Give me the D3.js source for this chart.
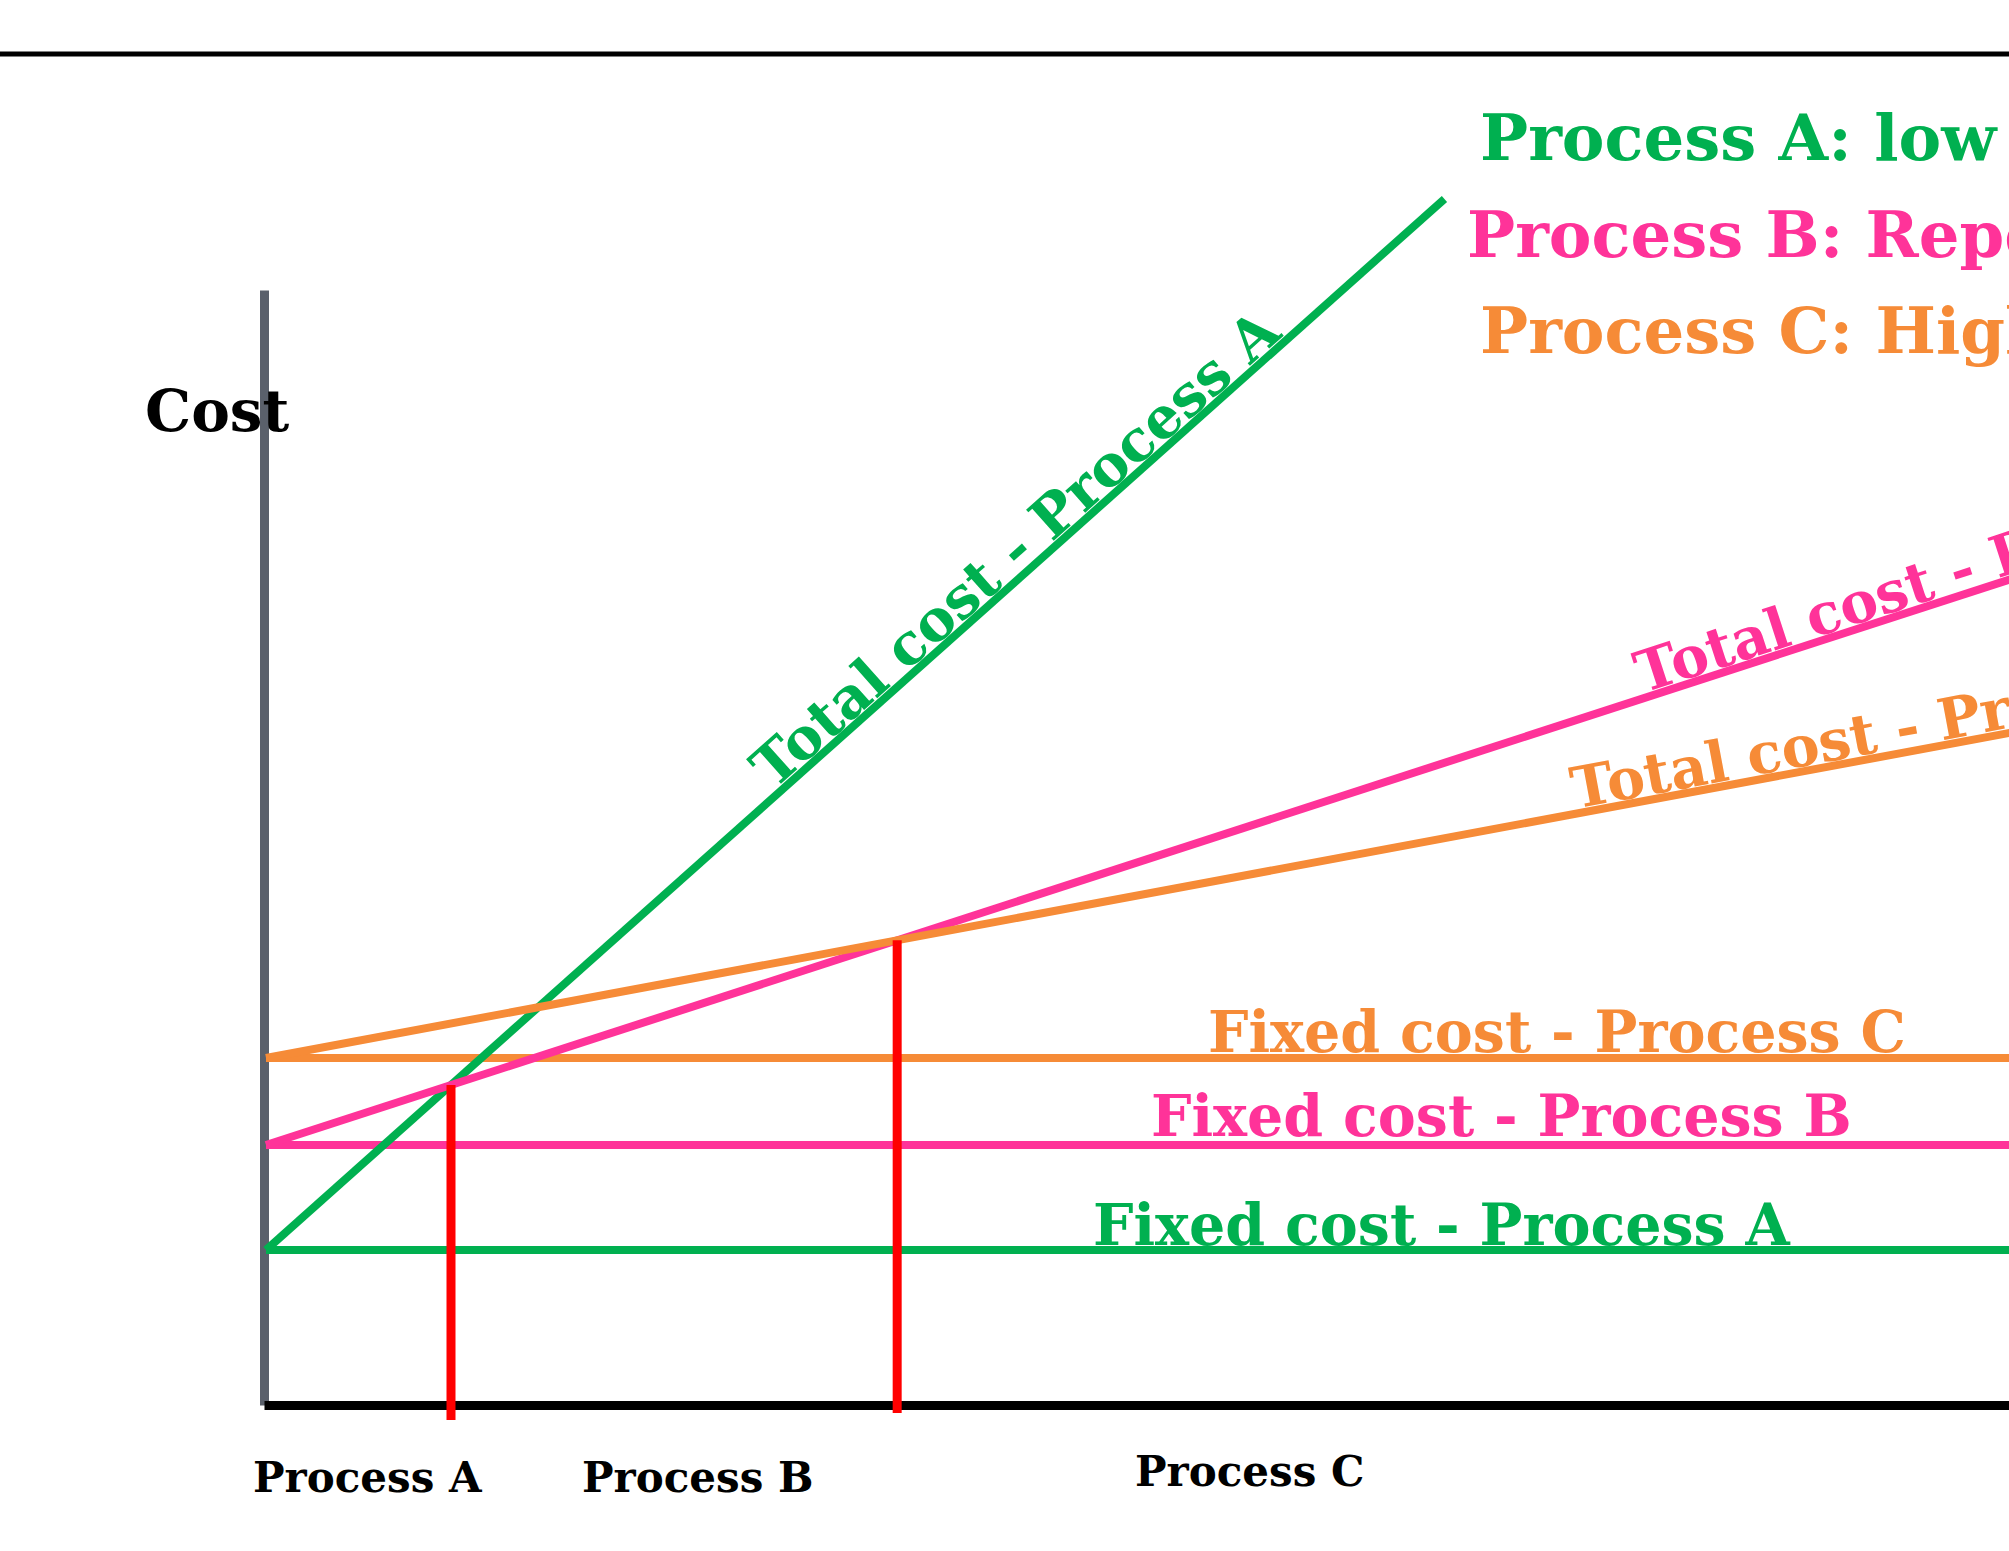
<!DOCTYPE html>
<html>
<head>
<meta charset="utf-8">
<script src="https://cdn.jsdelivr.net/npm/d3@7"></script>
<style>
  body { margin: 0; background: #fff; }
  svg { display: block; }
  text { font-family: "DejaVu Serif", serif; font-weight: bold; }
</style>
</head>
<body>
<script>
// cost model per process: total = fixed + variable * quantity
let processes = ["Process A", "Process B", "Process C"];
let fixedCost = [15.5, 26, 34.7];
let variableCost = [1.65, 0.6, 0.345];
let totalEnd = [63.7, 110, 110];   // quantity where the total cost line stops
let colors = ["#00b050", "#ff3399", "#f68b37"];
let legendText = ["Process A: low volume", "Process B: Repetitive", "Process C: High volume"];
let fixedLabels = ["Fixed cost - Process A", "Fixed cost - Process B", "Fixed cost - Process C"];
let totalLabels = ["Total cost - Process A", "Total cost - Process B", "Total cost - Process C"];
let regionLabels = ["Process A", "Process B", "Process C"];

let width = 2009, height = 1551;

let xScale = d3.scaleLinear()
    .domain([0, 100])
    .range([266, 2116]);

let yScale = d3.scaleLinear()
    .domain([0, 111.5])
    .range([1405, 290]);

let svg = d3.select("body")
    .append("svg")
    .attr("width", width).attr("height", height);

// rule at the top of the slide
svg.append("line")
    .attr("x1", 0).attr("x2", width)
    .attr("y1", 54).attr("y2", 54)
    .attr("stroke", "#000").attr("stroke-width", 5);

// axes without ticks
let yAxis = svg.append("g")
    .attr("transform", "translate(" + (xScale(0) - 2) + ",0)")
    .call(d3.axisLeft(yScale).tickValues([]).tickSizeOuter(0));
yAxis.select(".domain").attr("stroke", "#5a606b").attr("stroke-width", 9);

let xAxis = svg.append("g")
    .attr("transform", "translate(-2," + yScale(0) + ")")
    .call(d3.axisBottom(xScale).tickValues([]).tickSizeOuter(0));
xAxis.select(".domain").attr("stroke", "#000").attr("stroke-width", 9);

let line = d3.line()
    .x(function (d) { return xScale(d[0]); })
    .y(function (d) { return yScale(d[1]); });

// fixed cost lines
svg.selectAll(".fixed")
    .data(processes).enter()
    .append("path")
    .attr("class", "fixed")
    .attr("d", function (d, i) {
        return line([[0, fixedCost[i]], [110, fixedCost[i]]]);
    })
    .attr("stroke", function (d, i) { return colors[i]; })
    .attr("stroke-width", 8)
    .attr("fill", "none");

// total cost lines
svg.selectAll(".total")
    .data(processes).enter()
    .append("path")
    .attr("class", "total")
    .attr("d", function (d, i) {
        let q = totalEnd[i];
        return line([[0, fixedCost[i]], [q, fixedCost[i] + variableCost[i] * q]]);
    })
    .attr("stroke", function (d, i) { return colors[i]; })
    .attr("stroke-width", 8)
    .attr("fill", "none");

// break-even points between neighbouring processes
let breakEven = [];
for (let i = 0; i < processes.length - 1; i++) {
    let q = (fixedCost[i + 1] - fixedCost[i]) / (variableCost[i] - variableCost[i + 1]);
    breakEven.push([q, fixedCost[i] + variableCost[i] * q]);
}
let dropBelow = [15, 8];

svg.selectAll(".breakeven")
    .data(breakEven).enter()
    .append("line")
    .attr("class", "breakeven")
    .attr("x1", function (d) { return xScale(d[0]); })
    .attr("x2", function (d) { return xScale(d[0]); })
    .attr("y1", function (d) { return yScale(d[1]); })
    .attr("y2", function (d, i) { return yScale(0) + dropBelow[i]; })
    .attr("stroke", "#ff0000")
    .attr("stroke-width", 9);

// labels on fixed cost lines
let fixedLabelX = [1093, 1151, 1208];
let fixedLabelLift = [5, 9, 6];
svg.selectAll(".fixed-label")
    .data(fixedLabels).enter()
    .append("text")
    .attr("class", "fixed-label")
    .attr("x", function (d, i) { return fixedLabelX[i]; })
    .attr("y", function (d, i) { return yScale(fixedCost[i]) - fixedLabelLift[i]; })
    .attr("fill", function (d, i) { return colors[i]; })
    .attr("font-size", 57)
    .text(function (d) { return d; });

// labels along total cost lines
let totalLabelQ = [27.6, 74.5, 70.8];
svg.selectAll(".total-label")
    .data(totalLabels).enter()
    .append("text")
    .attr("class", "total-label")
    .attr("transform", function (d, i) {
        let q = totalLabelQ[i];
        let px = xScale(q), py = yScale(fixedCost[i] + variableCost[i] * q);
        let dx = xScale(q + 10) - px;
        let dy = yScale(fixedCost[i] + variableCost[i] * (q + 10)) - py;
        let angle = Math.atan2(dy, dx) * 180 / Math.PI;
        return "translate(" + px + "," + py + ") rotate(" + angle + ")";
    })
    .attr("dy", -5)
    .attr("fill", function (d, i) { return colors[i]; })
    .attr("font-size", 57)
    .text(function (d) { return d; });

// legend in the top right
let legendX = [1480, 1467, 1480];
let legendY = [160, 257, 353];
svg.selectAll(".legend")
    .data(legendText).enter()
    .append("text")
    .attr("class", "legend")
    .attr("x", function (d, i) { return legendX[i]; })
    .attr("y", function (d, i) { return legendY[i]; })
    .attr("fill", function (d, i) { return colors[i]; })
    .attr("font-size", 64)
    .text(function (d) { return d; });

// axis title
svg.append("text")
    .attr("x", 145).attr("y", 431)
    .attr("fill", "#000")
    .attr("font-size", 58)
    .text("Cost");

// region labels under the x axis
let regionX = [253, 582, 1135];
let regionY = [1492, 1492, 1486];
svg.selectAll(".region")
    .data(regionLabels).enter()
    .append("text")
    .attr("class", "region")
    .attr("x", function (d, i) { return regionX[i]; })
    .attr("y", function (d, i) { return regionY[i]; })
    .attr("fill", "#000")
    .attr("font-size", 42)
    .text(function (d) { return d; });
</script>
</body>
</html>
